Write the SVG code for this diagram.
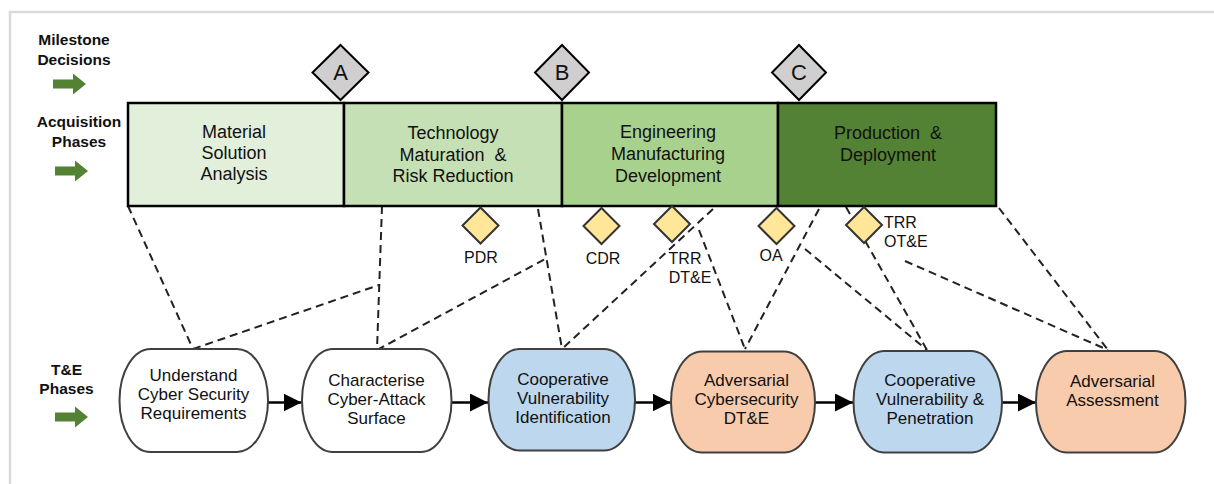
<svg xmlns="http://www.w3.org/2000/svg" width="1214" height="484" viewBox="0 0 1214 484">
<style>
.lbl{font-family:"Liberation Sans",Arial,sans-serif;font-weight:bold;font-size:15.5px;fill:#111;text-anchor:middle}
.ph{font-family:"Liberation Sans",Arial,sans-serif;font-size:18px;fill:#111;text-anchor:middle}
.nt{font-family:"Liberation Sans",Arial,sans-serif;font-size:17px;fill:#111;text-anchor:middle}
.ms{font-family:"Liberation Sans",Arial,sans-serif;font-size:16px;fill:#111}
.big{font-family:"Liberation Sans",Arial,sans-serif;font-size:22px;fill:#111;text-anchor:middle}
.phase{stroke:#000;stroke-width:2.5}
.gd{fill:#d0cece;stroke:#000;stroke-width:2}
.yd{fill:#ffe699;stroke:#333;stroke-width:2}
.node{stroke:#404040;stroke-width:2}
.dash{fill:none;stroke:#222;stroke-width:2;stroke-dasharray:8 5}
.flow{fill:none;stroke:#000;stroke-width:2.5}
.garrow{fill:#548235}
</style>
<defs>
<marker id="ah" markerUnits="userSpaceOnUse" markerWidth="19" markerHeight="19" refX="18" refY="9" orient="auto">
<path d="M0,0 L18,9 L0,18 z" fill="#000"/>
</marker>
<path id="ga" d="M0,-4.5 L20,-4.5 L20,-10.5 L33,0 L20,10.5 L20,4.5 L0,4.5 z"/>
</defs>
<rect x="10" y="12" width="1215" height="480" fill="none" stroke="#d9d9d9" stroke-width="2.5"/>

<g id="labels">
<text class="lbl" x="74" y="44.5">Milestone</text>
<text class="lbl" x="74" y="64.5">Decisions</text>
<use href="#ga" class="garrow" x="53" y="84"/>
<text class="lbl" x="79" y="127">Acquisition</text>
<text class="lbl" x="79" y="147">Phases</text>
<use href="#ga" class="garrow" x="55" y="171"/>
<text class="lbl" x="66.5" y="374.5">T&amp;E</text>
<text class="lbl" x="66.5" y="393.5">Phases</text>
<use href="#ga" class="garrow" x="55" y="417"/>
</g>

<g id="connectors">
<path class="dash" d="M128,206 L193,349"/>
<path class="dash" d="M193,349 L379,285"/>
<path class="dash" d="M382,206 L377,350"/>
<path class="dash" d="M377,350 L545,259"/>
<path class="dash" d="M538,209 L562,349"/>
<path class="dash" d="M713,209 L562,349"/>
<path class="dash" d="M699,230 L745,349"/>
<path class="dash" d="M819,209 L745,349"/>
<path class="dash" d="M805,249 L927,350"/>
<path class="dash" d="M846,207 L927,350"/>
<path class="dash" d="M905,261 L1108,350"/>
<path class="dash" d="M999,208 L1108,350"/>
<path class="flow" d="M268,402.5 L301.5,402.5" marker-end="url(#ah)"/>
<path class="flow" d="M451.5,402.5 L488,402.5" marker-end="url(#ah)"/>
<path class="flow" d="M635,402.5 L670.5,402.5" marker-end="url(#ah)"/>
<path class="flow" d="M815,402.5 L853,402.5" marker-end="url(#ah)"/>
<path class="flow" d="M1002,402.5 L1036,402.5" marker-end="url(#ah)"/>
</g>

<g id="phase-msa">
<rect class="phase" x="128" y="103" width="216" height="103" fill="#e2efda"/>
<text class="ph" x="234" y="137.5">Material</text>
<text class="ph" x="234" y="158.5">Solution</text>
<text class="ph" x="234" y="179.5">Analysis</text>
</g>
<g id="phase-tmrr">
<rect class="phase" x="344" y="103" width="218" height="103" fill="#c5e0b4"/>
<text class="ph" x="453" y="139" xml:space="preserve">Technology</text>
<text class="ph" x="453" y="160.5" xml:space="preserve">Maturation  &amp;</text>
<text class="ph" x="453" y="182">Risk Reduction</text>
</g>
<g id="phase-emd">
<rect class="phase" x="562" y="103" width="216" height="103" fill="#a9d18e"/>
<text class="ph" x="668" y="138">Engineering</text>
<text class="ph" x="668" y="159.5">Manufacturing</text>
<text class="ph" x="668" y="181.5">Development</text>
</g>
<g id="phase-pd">
<rect class="phase" x="778" y="103" width="218" height="103" fill="#548235"/>
<text class="ph" x="888" y="139" xml:space="preserve">Production  &amp;</text>
<text class="ph" x="888" y="160.5">Deployment</text>
</g>

<g id="milestone-a">
<path class="gd" d="M340.5,45 L368.5,72.5 L340.5,100 L312.5,72.5 z"/>
<text class="big" x="340.5" y="80">A</text>
</g>
<g id="milestone-b">
<path class="gd" d="M562,45 L589,72.5 L562,100 L535,72.5 z"/>
<text class="big" x="562" y="80">B</text>
</g>
<g id="milestone-c">
<path class="gd" d="M799,45 L826,72.5 L799,100 L772,72.5 z"/>
<text class="big" x="799" y="80">C</text>
</g>

<g id="review-pdr">
<path class="yd" d="M480.5,207.5 L498.5,225.5 L480.5,243.5 L462.5,225.5 z"/>
<text class="ms" x="481" y="263" text-anchor="middle">PDR</text>
</g>
<g id="review-cdr">
<path class="yd" d="M601.5,208 L619.5,226 L601.5,244 L583.5,226 z"/>
<text class="ms" x="603" y="264" text-anchor="middle">CDR</text>
</g>
<g id="review-trr-dte">
<path class="yd" d="M672,206 L690,224 L672,242 L654,224 z"/>
<text class="ms" x="685" y="264" text-anchor="middle">TRR</text>
<text class="ms" x="690" y="283" text-anchor="middle">DT&amp;E</text>
</g>
<g id="review-oa">
<path class="yd" d="M776.5,208 L794.5,226 L776.5,244 L758.5,226 z"/>
<text class="ms" x="771" y="261" text-anchor="middle">OA</text>
</g>
<g id="review-trr-ote">
<path class="yd" d="M864,207 L882,225 L864,243 L846,225 z"/>
<text class="ms" x="884" y="227.5">TRR</text>
<text class="ms" x="884" y="246.5">OT&amp;E</text>
</g>

<g id="te-understand">
<rect class="node" x="119.5" y="349" width="148.5" height="103" rx="31" ry="51.5" fill="#ffffff"/>
<text class="nt" x="193.5" y="380.5">Understand</text>
<text class="nt" x="193.5" y="399.5">Cyber Security</text>
<text class="nt" x="193.5" y="418.5">Requirements</text>
</g>
<g id="te-characterise">
<rect class="node" x="302" y="349" width="149.5" height="103" rx="31" ry="51.5" fill="#ffffff"/>
<text class="nt" x="376.5" y="386">Characterise</text>
<text class="nt" x="376.5" y="405">Cyber-Attack</text>
<text class="nt" x="376.5" y="423.5">Surface</text>
</g>
<g id="te-coop-vuln-id">
<rect class="node" x="488.5" y="349" width="146.5" height="101.5" rx="31" ry="50.5" fill="#bdd7ee"/>
<text class="nt" x="563" y="385">Cooperative</text>
<text class="nt" x="563" y="404">Vulnerability</text>
<text class="nt" x="563" y="423">Identification</text>
</g>
<g id="te-adv-dte">
<rect class="node" x="671" y="351.5" width="144" height="101" rx="31" ry="50.5" fill="#f8cbad"/>
<text class="nt" x="746.5" y="386">Adversarial</text>
<text class="nt" x="746.5" y="405">Cybersecurity</text>
<text class="nt" x="746.5" y="424">DT&amp;E</text>
</g>
<g id="te-coop-vuln-pen">
<rect class="node" x="853.5" y="351" width="148.5" height="101.5" rx="31" ry="50.5" fill="#bdd7ee"/>
<text class="nt" x="930" y="386">Cooperative</text>
<text class="nt" x="930" y="405">Vulnerability &amp;</text>
<text class="nt" x="930" y="424">Penetration</text>
</g>
<g id="te-adv-assess">
<rect class="node" x="1036" y="351" width="149.5" height="101.5" rx="31" ry="50.5" fill="#f8cbad"/>
<text class="nt" x="1112.5" y="386.5">Adversarial</text>
<text class="nt" x="1112.5" y="405.5">Assessment</text>
</g>
</svg>
